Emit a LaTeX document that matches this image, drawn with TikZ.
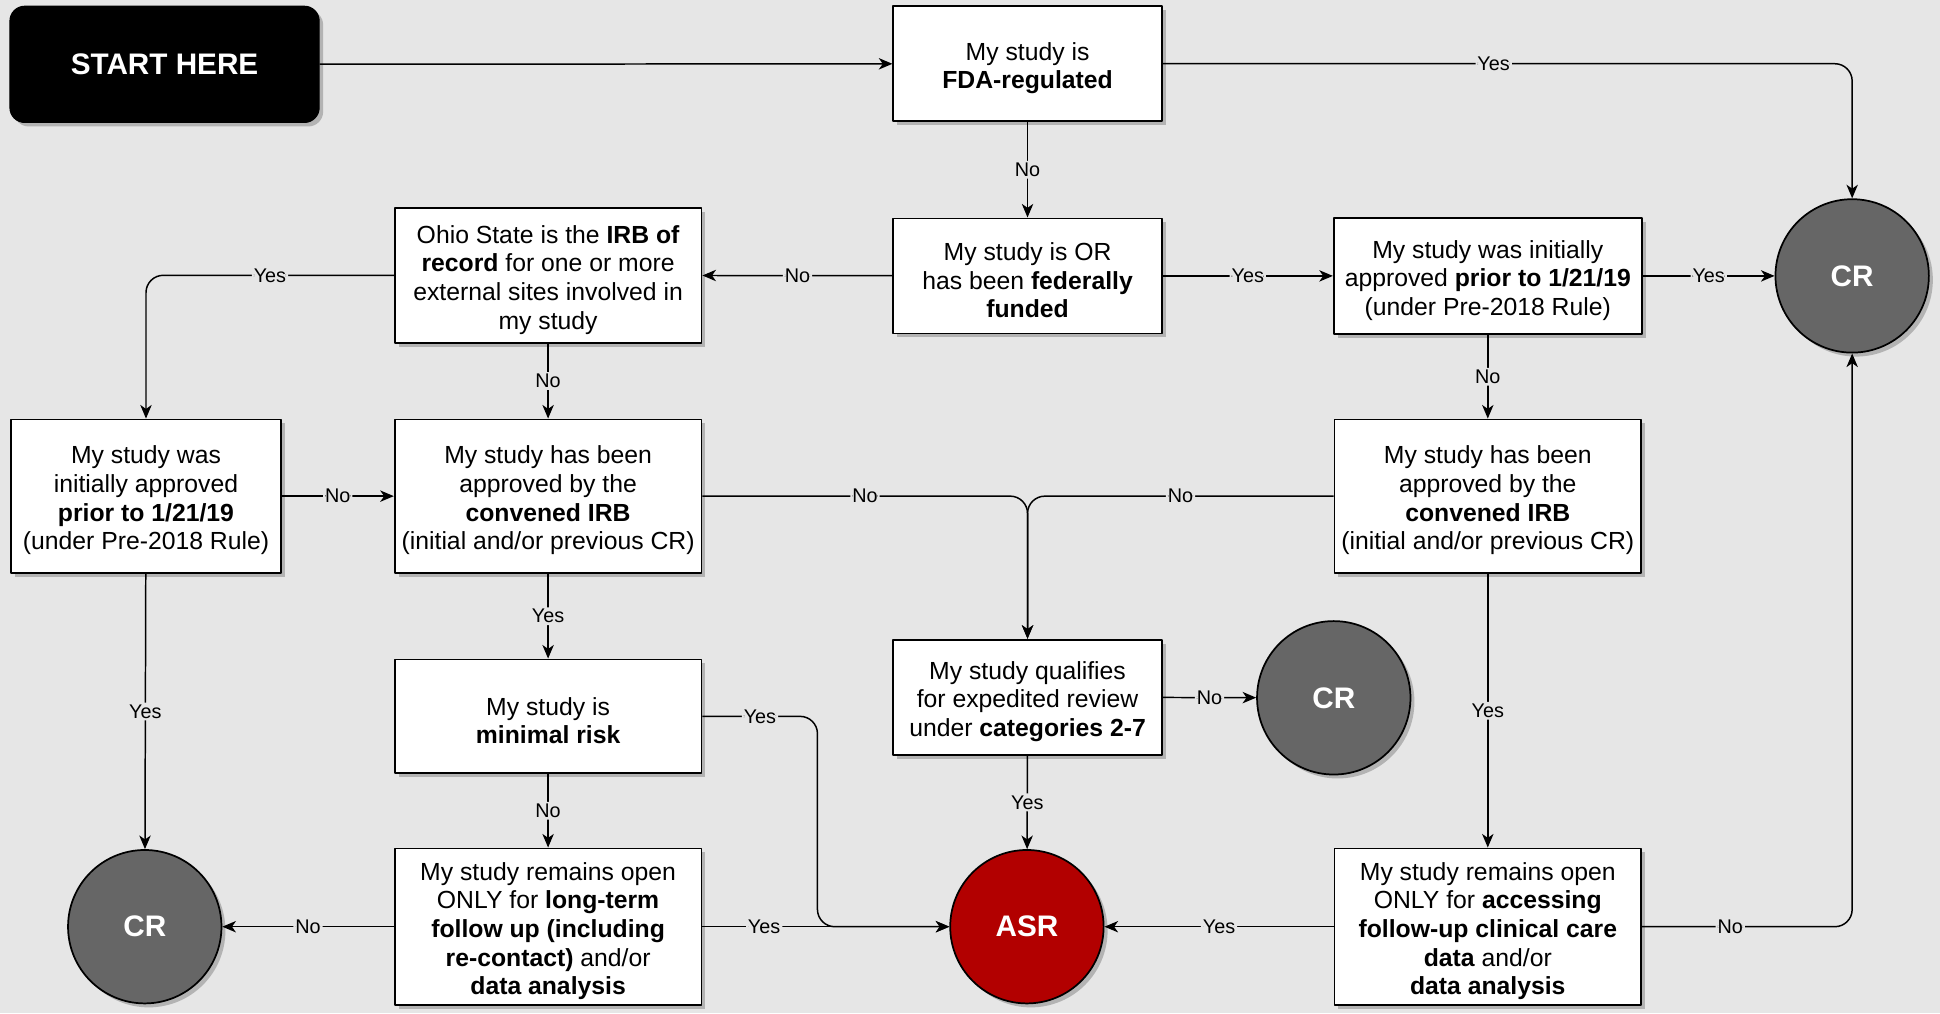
\documentclass[tikz,border=0pt]{standalone}
\usepackage{fontspec}
\setmainfont{Liberation Sans}
\usetikzlibrary{arrows.meta,shadows}
\definecolor{bgc}{HTML}{E6E6E6}
\definecolor{crgray}{HTML}{666666}
\definecolor{asrred}{HTML}{B20000}
\newcommand\up{\rule{0pt}{10.8pt}}
\begin{document}
\begin{tikzpicture}[x=.5pt, y=-.5pt, line join=round, >={Stealth[length=5.5pt,width=4.6pt,inset=1.6pt]},
	shade/.style={drop shadow={shadow xshift=1.6pt, shadow yshift=-1.6pt, fill=black, opacity=.22}},
	box/.style={draw, line width=.7pt, fill=white, shade, align=center, inner sep=2pt,
		minimum width=108.5pt, minimum height=46.5pt, font=\fontsize{10}{11.6}\selectfont},
	wide/.style={minimum width=124.5pt, minimum height=47pt},
	tall/.style={minimum width=124pt, minimum height=62pt},
	stop/.style={draw, line width=.7pt, circle, fill=crgray, shade, minimum size=62pt, inner sep=0pt,
		text=white, font=\fontsize{12}{14}\selectfont\bfseries},
	lbl/.style={fill=bgc, inner sep=.8pt, font=\fontsize{8}{9}\selectfont},
	line/.style={->, line width=.6pt, rounded corners=7pt}]
	\useasboundingbox[fill=bgc](0,0) rectangle (1568,819);
	\node[draw, fill=black, rounded corners=6pt, shade, minimum width=125pt, minimum height=47pt, text=white,
		font=\fontsize{12}{14}\selectfont\bfseries] (start) at (133,52) {START HERE};
	\node[box] (fda) at (830.5,51.5) {\up My study is\\\textbf{FDA-regulated}};
	\node[box] (fed) at (830.5,223) {\up My study is OR\\has been \textbf{federally}\\\textbf{funded}};
	\node[box, minimum width=124pt, minimum height=54.5pt] (ohio) at (443,222.5)
		{\up Ohio State is the \textbf{IRB of}\\\textbf{record} for one or more\\external sites involved in\\my study};
	\node[box, wide] (priorR) at (1202.5,223) {\up My study was initially\\approved \textbf{prior to 1/21/19}\\(under Pre-2018 Rule)};
	\node[stop] (crA) at (1497,223) {CR};
	\node[box, minimum width=109pt, minimum height=62pt] (priorL) at (118,401)
		{\up My study was\\initially approved\\\textbf{prior to 1/21/19}\\(under Pre-2018 Rule)};
	\node[box, tall] (convL) at (443,401) {\up My study has been\\approved by the\\\textbf{convened IRB}\\(initial and/or previous CR)};
	\node[box, tall] (convR) at (1202.5,401) {\up My study has been\\approved by the\\\textbf{convened IRB}\\(initial and/or previous CR)};
	\node[box] (exped) at (830.5,563.5) {\up My study qualifies\\for expedited review\\under \textbf{categories 2-7}};
	\node[stop] (crB) at (1078,564) {CR};
	\node[box, tall, minimum height=46pt] (minrisk) at (443,579) {\up My study is\\\textbf{minimal risk}};
	\node[stop] (crC) at (117,749) {CR};
	\node[box, tall] (ltfu) at (443,749) {\up My study remains open\\ONLY for \textbf{long-term}\\\textbf{follow up (including}\\\textbf{re-contact)} and/or\\\textbf{data analysis}};
	\node[stop, fill=asrred] (asr) at (830,749) {ASR};
	\node[box, tall] (access) at (1202.5,749) {\up My study remains open\\ONLY for \textbf{accessing}\\\textbf{follow-up clinical care}\\\textbf{data} and/or\\\textbf{data analysis}};
	
	\draw[line] (start) -- (fda);
	\draw[line] (fda) -| node[lbl, pos=.24]{Yes} (crA);
	\draw[line] (fda) -- node[lbl]{No} (fed);
	\draw[line] (fed) -- node[lbl]{No} (ohio);
	\draw[line] (fed) -- node[lbl]{Yes} (priorR);
	\draw[line] (priorR) -- node[lbl]{Yes} (crA);
	\draw[line] (priorR) -- node[lbl]{No} (convR);
	\draw[line] (ohio) -| node[lbl, pos=.25]{Yes} (priorL);
	\draw[line] (ohio) -- node[lbl]{No} (convL);
	\draw[line] (priorL) -- node[lbl]{No} (convL);
	\draw[line] (priorL) -- node[lbl]{Yes} (crC);
	\draw[line] (convL) -| node[lbl, pos=.25]{No} (exped);
	\draw[line] (convR) -| node[lbl, pos=.25]{No} (exped);
	\draw[line] (convL) -- node[lbl]{Yes} (minrisk);
	\draw[line] (convR) -- node[lbl]{Yes} (access);
	\draw[line] (exped) -- node[lbl]{No} (crB);
	\draw[line] (exped) -- node[lbl]{Yes} (asr);
	\draw[line] (minrisk.east) -- node[lbl]{Yes} ++(93,0) |- (asr);
	\draw[line] (minrisk) -- node[lbl]{No} (ltfu);
	\draw[line] (ltfu) -- node[lbl]{No} (crC);
	\draw[line] (ltfu) -- node[lbl, pos=.25]{Yes} (asr);
	\draw[line] (access) -- node[lbl]{Yes} (asr);
	\draw[line] (access) -| node[lbl, pos=.21]{No} (crA);
\end{tikzpicture}
\end{document}
